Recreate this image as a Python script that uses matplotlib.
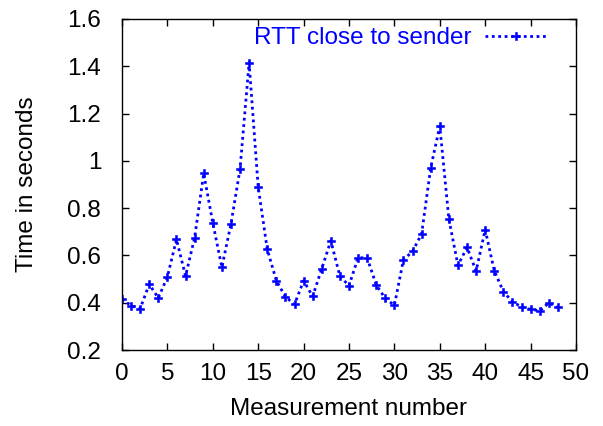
import matplotlib
matplotlib.use('Agg')
import matplotlib.pyplot as plt

# donnees
mesure = list(range(49))
rtt = [0.416, 0.387, 0.375, 0.478, 0.420, 0.509, 0.668, 0.513, 0.675, 0.947,
       0.738, 0.550, 0.733, 0.965, 1.415, 0.889, 0.626, 0.493, 0.425, 0.393,
       0.493, 0.427, 0.544, 0.662, 0.512, 0.472, 0.590, 0.590, 0.475, 0.418,
       0.389, 0.582, 0.617, 0.691, 0.971, 1.147, 0.754, 0.558, 0.634, 0.534,
       0.709, 0.535, 0.447, 0.404, 0.382, 0.372, 0.366, 0.399, 0.380]
xticks = list(range(0, 51, 5))
yticks = [0.2, 0.4, 0.6, 0.8, 1, 1.2, 1.4, 1.6]
ytick_labels = ['0.2', '0.4', '0.6', '0.8', '1', '1.2', '1.4', '1.6']

plt.rcParams['font.family'] = ['Liberation Sans', 'DejaVu Sans']
plt.rcParams['font.size'] = 17.5

fig = plt.figure(figsize=(6.03, 4.26), dpi=100)
ax = fig.add_axes([0.2023, 0.1784, 0.7529, 0.777])

ax.plot(mesure, rtt, color='#0000ff', linestyle=(0, (1, 1.3)), linewidth=2,
        marker='P', markersize=5.8, markeredgewidth=0.4, label='RTT close to sender')

ax.set_xlim(0, 50)
ax.set_ylim(0.2, 1.6)
ax.set_xticks(xticks)
ax.set_yticks(yticks)
ax.set_yticklabels(ytick_labels)
ax.tick_params(axis='x', direction='in', top=True, length=5, width=1, pad=9)
ax.tick_params(axis='y', direction='in', right=True, length=5, width=1, pad=15)
for s in ax.spines.values():
    s.set_linewidth(1)

ax.set_xlabel('Measurement number', labelpad=10)
ax.set_ylabel('Time in seconds', labelpad=21)

leg = ax.legend(loc='upper right', bbox_to_anchor=(0.938, 0.975), frameon=False,
                markerfirst=False, handlelength=2.6, borderpad=0, borderaxespad=0,
                handletextpad=0.55)
for t in leg.get_texts():
    t.set_color('#0000ff')

fig.savefig('out.png', dpi=100)
